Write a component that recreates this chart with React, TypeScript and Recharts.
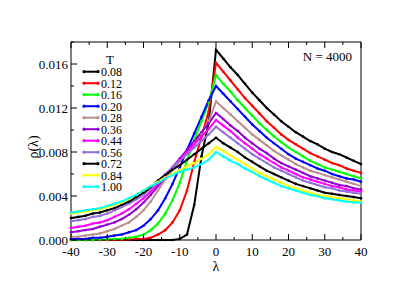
import { Line, LineChart, XAxis, YAxis } from "recharts";

// grid of lambda values (step 2), the same for every temperature
const lambda = [
  -40, -38, -36, -34, -32, -30, -28, -26, -24, -22, -20, -18, -16, -14, -12, -10, -8, -6, -4, -2,
  0, 2, 4, 6, 8, 10, 12, 14, 16, 18, 20, 22, 24, 26, 28, 30, 32, 34, 36, 38, 40,
];

// rho(lambda), one array per temperature T
const t008 = [
  0, 0, 0, 0, 0, 0, 0, 0, 0, 0, 0, 0, 0, 0, 0, 0.0001, 0.0005, 0.0032, 0.0076, 0.0107, 0.0173,
  0.0165, 0.0157, 0.015, 0.0142, 0.0134, 0.0127, 0.012, 0.0114, 0.0108, 0.0103, 0.0098, 0.0094,
  0.009, 0.0087, 0.0083, 0.008, 0.0078, 0.0075, 0.0072, 0.0069,
];
const t012 = [
  0, 0, 0, 0, 0, 0, 0, 0, 0.00005, 0.0001, 0.0001, 0.0002, 0.0005, 0.0009, 0.0016, 0.0027, 0.0045,
  0.0071, 0.0094, 0.0117, 0.0161, 0.0153, 0.0145, 0.0137, 0.0129, 0.0122, 0.0115, 0.0108, 0.0102,
  0.0096, 0.0091, 0.0087, 0.0083, 0.0079, 0.0076, 0.0073, 0.007, 0.0068, 0.0065, 0.0063, 0.0061,
];
const t016 = [
  0, 0, 0, 0, 0.00005, 0.00005, 0.0001, 0.0001, 0.0002, 0.0003, 0.0005, 0.0009, 0.0015, 0.0024,
  0.0036, 0.0052, 0.0072, 0.0091, 0.0108, 0.0125, 0.015, 0.0142, 0.0135, 0.0127, 0.012, 0.0113,
  0.0106, 0.01, 0.0094, 0.0089, 0.0084, 0.008, 0.0076, 0.0072, 0.0069, 0.0066, 0.0064, 0.0062,
  0.006, 0.0058, 0.0056,
];
const t020 = [
  0.0001, 0.0001, 0.0001, 0.0002, 0.0002, 0.0003, 0.0004, 0.0005, 0.0007, 0.0009, 0.0013, 0.0019,
  0.0027, 0.0038, 0.0051, 0.0066, 0.0082, 0.0097, 0.0112, 0.0127, 0.014, 0.0133, 0.0126, 0.0119,
  0.0112, 0.0105, 0.0099, 0.0093, 0.0088, 0.0083, 0.0078, 0.0074, 0.0071, 0.0068, 0.0065, 0.0063,
  0.006, 0.0058, 0.0056, 0.0055, 0.0053,
];
const t028 = [
  0.0003, 0.0003, 0.0004, 0.0005, 0.0006, 0.0008, 0.001, 0.0013, 0.0016, 0.0021, 0.0027, 0.0035,
  0.0045, 0.0055, 0.0064, 0.0072, 0.008, 0.0088, 0.0097, 0.0108, 0.0126, 0.012, 0.0114, 0.0108,
  0.0102, 0.0096, 0.0091, 0.0086, 0.0081, 0.0077, 0.0073, 0.0069, 0.0066, 0.0063, 0.0061, 0.0059,
  0.0057, 0.0055, 0.0053, 0.0051, 0.0049,
];
const t036 = [
  0.0007, 0.0008, 0.0009, 0.001, 0.0012, 0.0014, 0.0016, 0.0019, 0.0023, 0.0028, 0.0034, 0.0041,
  0.0049, 0.0057, 0.0066, 0.0074, 0.0082, 0.009, 0.0098, 0.0106, 0.01155, 0.011, 0.0104, 0.0099,
  0.0093, 0.0088, 0.0083, 0.0079, 0.0074, 0.007, 0.0067, 0.0064, 0.0061, 0.0058, 0.0056, 0.0054,
  0.0052, 0.005, 0.0049, 0.0047, 0.0046,
];
const t044 = [
  0.0011, 0.0012, 0.0013, 0.0015, 0.0016, 0.0018, 0.0021, 0.0024, 0.0028, 0.0033, 0.0038, 0.0044,
  0.0051, 0.0058, 0.0066, 0.0073, 0.008, 0.0087, 0.0094, 0.0101, 0.0109, 0.0104, 0.0099, 0.0093,
  0.0088, 0.0083, 0.0078, 0.0074, 0.007, 0.0066, 0.0063, 0.006, 0.0057, 0.0055, 0.0053, 0.0051,
  0.0049, 0.0048, 0.0046, 0.0045, 0.0044,
];
const t056 = [
  0.0017, 0.0018, 0.0019, 0.0021, 0.0022, 0.0024, 0.0027, 0.003, 0.0033, 0.0037, 0.0041, 0.0047,
  0.0053, 0.006, 0.0066, 0.0072, 0.0078, 0.0084, 0.009, 0.0096, 0.0103, 0.0098, 0.0093, 0.0088,
  0.0083, 0.0078, 0.0074, 0.007, 0.0066, 0.0063, 0.006, 0.0057, 0.0054, 0.0052, 0.005, 0.0048,
  0.0047, 0.0045, 0.0044, 0.0043, 0.0042,
];
const t072 = [
  0.002, 0.0021, 0.0022, 0.0024, 0.0025, 0.0027, 0.0029, 0.0032, 0.0035, 0.0039, 0.0043, 0.0048,
  0.0054, 0.0059, 0.0064, 0.0068, 0.0073, 0.0078, 0.0083, 0.0088, 0.0093, 0.0088, 0.0084, 0.008,
  0.0075, 0.0071, 0.0067, 0.0063, 0.006, 0.0057, 0.0054, 0.0051, 0.0049, 0.0047, 0.0045, 0.0043,
  0.0042, 0.0041, 0.004, 0.0039, 0.0038,
];
const t084 = [
  0.0024, 0.0025, 0.0026, 0.0027, 0.0028, 0.003, 0.0032, 0.0034, 0.0037, 0.0041, 0.0045, 0.0049,
  0.0053, 0.0057, 0.006, 0.0064, 0.0067, 0.007, 0.0074, 0.0078, 0.00845, 0.0081, 0.0077, 0.0073,
  0.0069, 0.0065, 0.0061, 0.0058, 0.0055, 0.0052, 0.0049, 0.0047, 0.0045, 0.0043, 0.0041, 0.004,
  0.0039, 0.0038, 0.0037, 0.0036, 0.0035,
];
const t100 = [
  0.0025, 0.0026, 0.0027, 0.0028, 0.0029, 0.0031, 0.0033, 0.0035, 0.0038, 0.0041, 0.0045, 0.0049,
  0.0052, 0.0056, 0.0059, 0.0062, 0.0064, 0.0066, 0.0069, 0.0073, 0.008, 0.0076, 0.0072, 0.0069,
  0.0065, 0.0062, 0.0058, 0.0055, 0.0052, 0.0049, 0.0047, 0.0045, 0.0043, 0.0041, 0.004, 0.0038,
  0.0037, 0.0036, 0.0035, 0.0034, 0.0034,
];

const temps = ["0.08", "0.12", "0.16", "0.20", "0.28", "0.36", "0.44", "0.56", "0.72", "0.84", "1.00"];
const colors = [
  "#000000", "#ff0000", "#00ff00", "#0000ff", "#bc8f8f", "#9400d3",
  "#ff00ff", "#9370db", "#000000", "#ffff00", "#00ffff",
];
const values = [t008, t012, t016, t020, t028, t036, t044, t056, t072, t084, t100];

const xTicks = [-40, -35, -30, -25, -20, -15, -10, -5, 0, 5, 10, 15, 20, 25, 30, 35, 40];
const yTicks = [0, 0.002, 0.004, 0.006, 0.008, 0.01, 0.012, 0.014, 0.016, 0.018];

const rows = lambda.map((x, i) => {
  const row: Record<string, number> = { lambda: x };
  values.forEach((v, s) => {
    row["s" + s] = v[i];
  });
  return row;
});

const font = '"Liberation Serif", "Times New Roman", serif';
const W = 407;
const H = 288;

// ticks point inward; majors every 10 / 0.004 carry a label
function XTick(props: any) {
  const { x, y, payload, top } = props;
  const major = payload.value % 10 === 0;
  const len = major ? 6 : 3;
  return (
    <g>
      <line x1={x} y1={y} x2={x} y2={top ? y + len : y - len} stroke="#000" />
      {!top && major && (
        <text x={x} y={y + 16} textAnchor="middle" fontSize={13} fontFamily={font} fill="#000">
          {payload.value}
        </text>
      )}
    </g>
  );
}

function YTick(props: any) {
  const { x, y, payload, right } = props;
  const major = Math.round(payload.value * 1000) % 4 === 0;
  const len = major ? 6 : 3;
  return (
    <g>
      <line x1={x} y1={y} x2={right ? x - len : x + len} y2={y} stroke="#000" />
      {!right && major && (
        <text x={x - 3} y={y + 4.5} textAnchor="end" fontSize={13} fontFamily={font} fill="#000">
          {payload.value.toFixed(3)}
        </text>
      )}
    </g>
  );
}

export default function App() {
  return (
    <div style={{ position: "absolute", left: 0, top: 0, width: W, height: H, background: "#fff" }}>
      <LineChart
        width={W}
        height={H}
        data={rows}
        margin={{ top: 40, right: 44, bottom: 18, left: 31 }}
      >
        <XAxis
          xAxisId="b"
          dataKey="lambda"
          type="number"
          domain={[-40, 40]}
          ticks={xTicks}
          interval={0}
          height={30}
          tickSize={0}
          tickMargin={0}
          tickLine={false}
          axisLine={{ stroke: "#000" }}
          tick={<XTick />}
        />
        <XAxis
          xAxisId="t"
          orientation="top"
          dataKey="lambda"
          type="number"
          domain={[-40, 40]}
          ticks={xTicks}
          interval={0}
          height={2}
          tickSize={0}
          tickMargin={0}
          tickLine={false}
          axisLine={{ stroke: "#000" }}
          tick={<XTick top />}
        />
        <YAxis
          yAxisId="l"
          type="number"
          domain={[0, 0.018]}
          ticks={yTicks}
          interval={0}
          width={40}
          tickSize={0}
          tickMargin={0}
          tickLine={false}
          axisLine={{ stroke: "#000" }}
          tick={<YTick />}
        />
        <YAxis
          yAxisId="r"
          orientation="right"
          type="number"
          domain={[0, 0.018]}
          ticks={yTicks}
          interval={0}
          width={2}
          tickSize={0}
          tickMargin={0}
          tickLine={false}
          axisLine={{ stroke: "#000" }}
          tick={<YTick right />}
        />
        {temps.map((t, s) => (
          <Line
            key={t}
            xAxisId="b"
            yAxisId="l"
            dataKey={"s" + s}
            name={t}
            type="linear"
            stroke={colors[s]}
            strokeWidth={2}
            dot={{ r: 1.3, strokeWidth: 0, fill: colors[s] }}
            isAnimationActive={false}
          />
        ))}
      </LineChart>
      <svg
        width={W}
        height={H}
        style={{ position: "absolute", left: 0, top: 0, pointerEvents: "none" }}
        fontFamily={font}
      >
        <text x={216} y={271} textAnchor="middle" fontSize={14}>
          λ
        </text>
        <text x={0} y={0} transform="translate(38,147) rotate(-90)" textAnchor="middle" fontSize={14}>
          ρ(λ)
        </text>
        <text x={352} y={61} textAnchor="end" fontSize={13}>
          N = 4000
        </text>
        <text x={110} y={64} textAnchor="middle" fontSize={13}>
          T
        </text>
        {temps.map((t, s) => {
          const cy = 71.7 + 11.5 * s;
          return (
            <g key={t}>
              <line x1={84} y1={cy} x2={98} y2={cy} stroke={colors[s]} strokeWidth={2} />
              <circle cx={84} cy={cy} r={1.6} fill={colors[s]} />
              <circle cx={98} cy={cy} r={1.6} fill={colors[s]} />
              <text x={101} y={cy + 4.5} fontSize={12}>
                {t}
              </text>
            </g>
          );
        })}
      </svg>
    </div>
  );
}
